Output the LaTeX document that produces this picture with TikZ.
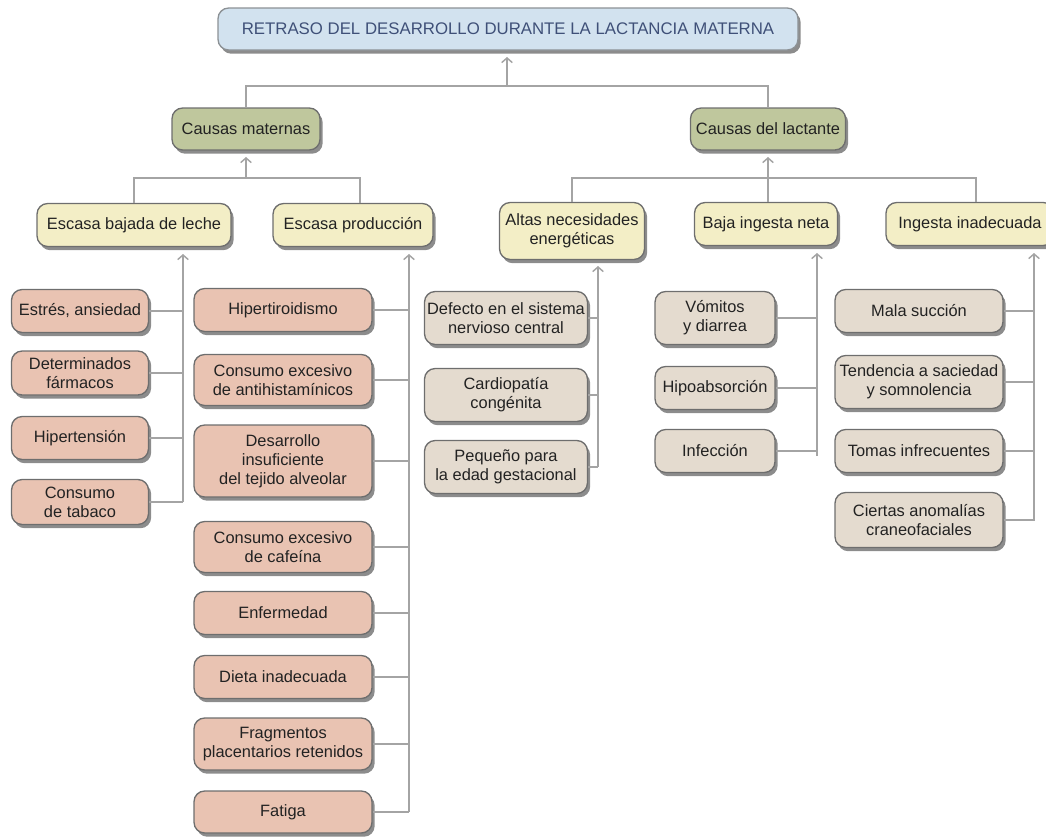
\documentclass[tikz,border=0pt]{standalone}
\usepackage{fontspec}
\setmainfont{Liberation Sans}
\usetikzlibrary{arrows.meta,shadows}
\definecolor{ttlfill}{HTML}{D2E2EF}
\definecolor{ttltext}{HTML}{3F5078}
\definecolor{causfill}{HTML}{BFC79D}
\definecolor{yelfill}{HTML}{F3EEC6}
\definecolor{salfill}{HTML}{E9C3B2}
\definecolor{begfill}{HTML}{E4DBCF}
\definecolor{boxdraw}{HTML}{6E6E6E}
\definecolor{lnc}{HTML}{A4A4A4}
\definecolor{txt}{HTML}{222222}
\colorlet{ttldraw}{boxdraw!70!ttlfill}
\tikzset{
  wh/.style 2 args={minimum width=#1*0.75pt, minimum height=#2*0.75pt},
  box/.style={draw=boxdraw, line width=1pt, rounded corners=8pt, align=center,
    inner sep=1pt, text=txt, font=\fontsize{12.3}{14.2}\selectfont,
    drop shadow={shadow xshift=2pt, shadow yshift=-2.8pt, fill=black, opacity=0.45}},
  ttlbox/.style={box, fill=ttlfill, draw=ttldraw, text=ttltext, font=\fontsize{12.6}{14}\selectfont},
  causbox/.style={box, fill=causfill},
  yelbox/.style={box, fill=yelfill},
  salbox/.style={box, fill=salfill},
  begbox/.style={box, fill=begfill},
  conn/.style={draw=lnc, line width=2.1pt},
  arr/.style={conn, -{Straight Barb[length=3.5pt,width=8pt,line width=1.1pt]}},
}
\begin{document}
\begin{tikzpicture}[x=0.75pt,y=-0.75pt]
\useasboundingbox (0,0) rectangle (1046,839);
% title
\node[ttlbox, wh={580}{42}] (T) at (508,29) {RETRASO DEL DESARROLLO DURANTE LA LACTANCIA MATERNA};
% level 1
\node[causbox, wh={148}{42}] (CM) at (246,129) {Causas maternas};
\node[causbox, wh={155}{42}] (CL) at (768,129) {Causas del lactante};
% level 2
\node[yelbox, wh={194}{43}] (EB) at (134,225) {Escasa bajada de leche};
\node[yelbox, wh={160}{43}] (EP) at (353,225) {Escasa producción};
\node[yelbox, wh={145}{57}] (AN) at (572,231) {Altas necesidades\\energéticas};
\node[yelbox, wh={143}{43}] (BI) at (766,224) {Baja ingesta neta};
\node[yelbox, wh={168}{43}] (II) at (970,224) {Ingesta inadecuada};
% EB children
\node[salbox, wh={137}{43}] (s1) at (80,311) {Estrés, ansiedad};
\node[salbox, wh={137}{44}] (s2) at (80,373) {Determinados\\fármacos};
\node[salbox, wh={137}{43}] (s3) at (80,438) {Hipertensión};
\node[salbox, wh={137}{45}] (s4) at (80,502) {Consumo\\de tabaco};
% EP children
\node[salbox, wh={178}{43}] (p1) at (283,310) {Hipertiroidismo};
\node[salbox, wh={178}{51}] (p2) at (283,380) {Consumo excesivo\\de antihistamínicos};
\node[salbox, wh={178}{72}] (p3) at (283,461) {Desarrollo\\insuficiente\\del tejido alveolar};
\node[salbox, wh={178}{51}] (p4) at (283,547) {Consumo excesivo\\de cafeína};
\node[salbox, wh={178}{43}] (p5) at (283,613) {Enfermedad};
\node[salbox, wh={178}{43}] (p6) at (283,677) {Dieta inadecuada};
\node[salbox, wh={178}{52}] (p7) at (283,744) {Fragmentos\\placentarios retenidos};
\node[salbox, wh={178}{42}] (p8) at (283,812) {Fatiga};
% AN children
\node[begbox, wh={163}{53}] (a1) at (506,318) {Defecto en el sistema\\nervioso central};
\node[begbox, wh={163}{53}] (a2) at (506,395) {Cardiopatía\\congénita};
\node[begbox, wh={163}{53}] (a3) at (506,467) {Pequeño para\\la edad gestacional};
% BI children
\node[begbox, wh={120}{53}] (b1) at (715,318) {Vómitos\\y diarrea};
\node[begbox, wh={120}{43}] (b2) at (715,388) {Hipoabsorción};
\node[begbox, wh={120}{43}] (b3) at (715,451) {Infección};
% II children
\node[begbox, wh={168}{43}] (i1) at (919,311) {Mala succión};
\node[begbox, wh={168}{53}] (i2) at (919,382) {Tendencia a saciedad\\y somnolencia};
\node[begbox, wh={168}{43}] (i3) at (919,451) {Tomas infrecuentes};
\node[begbox, wh={168}{55}] (i4) at (919,520) {Ciertas anomalías\\craneofaciales};
% junction coordinates
\coordinate (tj) at (507,86);
\coordinate (ta) at (507,57);
\coordinate (mj) at (246,178);
\coordinate (ma) at (246,157);
\coordinate (mjR) at (360,178);
\coordinate (lj) at (768,178);
\coordinate (la) at (768,157);
\coordinate (ljR) at (976,178);
\coordinate (ebA) at (183,254);
\coordinate (ebB) at (183,502);
\coordinate (epA) at (409,254);
\coordinate (epB) at (409,812);
\coordinate (anA) at (598,266);
\coordinate (anB) at (598,467);
\coordinate (biA) at (817,253);
\coordinate (biB) at (817,456);
\coordinate (iiA) at (1034,253);
\coordinate (iiB) at (1034,521);
% top level connectors
\draw[conn] (CM.north) |- (tj) -| (CL.north);
\draw[arr] (tj) -- (ta);
\draw[conn] (EB.north) |- (mjR) -- (mjR |- EP.north);
\draw[arr] (mj) -- (ma);
\draw[conn] (AN.north) |- (ljR) -- (ljR |- II.north);
\draw[conn] (lj) -- (BI.north -| lj);
\draw[arr] (lj) -- (la);
% group verticals
\draw[arr] (ebB) -- (ebA);
\draw[arr] (epB) -- (epA);
\draw[arr] (anB) -- (anA);
\draw[arr] (biB) -- (biA);
\draw[arr] (iiB) -- (iiA);
% group horizontals
\foreach \n in {s1,s2,s3,s4} \draw[conn] (\n.east) -- (\n.east -| ebA);
\foreach \n in {p1,p2,p3,p4,p5,p6,p7,p8} \draw[conn] (\n.east) -- (\n.east -| epA);
\foreach \n in {a1,a2,a3} \draw[conn] (\n.east) -- (\n.east -| anA);
\foreach \n in {b1,b2,b3} \draw[conn] (\n.east) -- (\n.east -| biA);
\foreach \n in {i1,i2,i3,i4} \draw[conn] (\n.east) -- (\n.east -| iiA);
\end{tikzpicture}
\end{document}
